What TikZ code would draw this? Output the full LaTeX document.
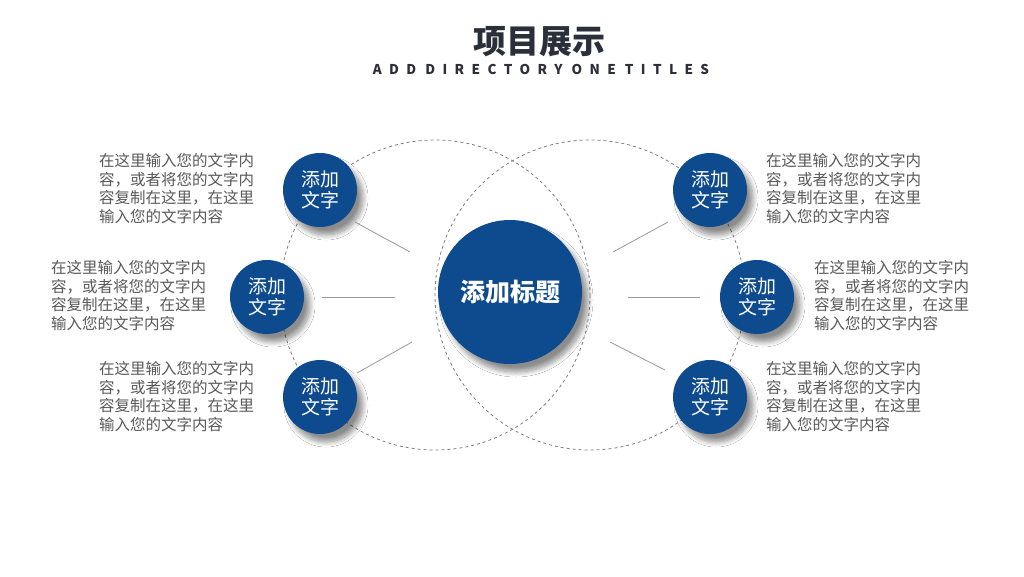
\documentclass[tikz,border=0pt]{standalone}
\usepackage{fontspec}
\setmainfont{Noto Sans CJK SC}
\usetikzlibrary{shadows.blur}
\definecolor{navy}{HTML}{0E4A8E}
\definecolor{txt}{HTML}{595959}
\definecolor{ttl}{HTML}{2A2F3A}
\tikzset{
  bub/.style={circle,fill=navy,minimum size=74pt,inner sep=0pt,text=white,align=center,font=\fontsize{19}{21}\selectfont,blur shadow={shadow xshift=6pt,shadow yshift=-8pt,shadow opacity=45,shadow blur radius=5pt,shadow blur steps=10}},
  dcirc/.style={draw=gray,dashed,line width=0.8pt},
  link/.style={draw=gray!80,line width=0.8pt},
  desc/.style={text=txt,align=left,anchor=north west,inner sep=0pt,font=\fontsize{15.5}{18.7}\selectfont}
}
\begin{document}
\begin{tikzpicture}[x=1pt,y=-1pt]
\useasboundingbox[fill=white] (0,0) rectangle (1024,576);
\node[text=ttl] (title) at (539,42) {\fontsize{33}{35}\selectfont\bfseries 项目展示};
\node[text=ttl] (sub) at (541,69) {\fontsize{13.5}{15}\selectfont\bfseries\addfontfeature{LetterSpace=55}ADD\hspace{9pt}DIRECTORY\hspace{9pt}ONE\hspace{9pt}TITLES};
\draw[dcirc] (435,295) circle (155);
\draw[dcirc] (590,295) circle (155);
\node[bub,minimum size=144pt,font=\fontsize{25}{27}\selectfont\bfseries] (c) at (510,292) {添加标题};
\node[bub] (l1) at (320,190) {添加\\文字};
\node[bub] (l2) at (267,297) {添加\\文字};
\node[bub] (l3) at (320,397) {添加\\文字};
\node[bub] (r1) at (710,190) {添加\\文字};
\node[bub] (r2) at (757,297) {添加\\文字};
\node[bub] (r3) at (710,397) {添加\\文字};
\coordinate (a1) at (355,222); \coordinate (b1) at (410,252);
\coordinate (a2) at (322,297); \coordinate (b2) at (395,297);
\coordinate (a3) at (357,373); \coordinate (b3) at (412,342);
\coordinate (a4) at (613,252); \coordinate (b4) at (668,222);
\coordinate (a5) at (628,297); \coordinate (b5) at (700,297);
\coordinate (a6) at (610,342); \coordinate (b6) at (665,370);
\foreach \i in {1,...,6}{\draw[link] (a\i) -- (b\i);}
\node[desc] (t1) at (99,153) {在这里输入您的文字内\\容，或者将您的文字内\\容复制在这里，在这里\\输入您的文字内容};
\node[desc] (t2) at (51,260) {在这里输入您的文字内\\容，或者将您的文字内\\容复制在这里，在这里\\输入您的文字内容};
\node[desc] (t3) at (99,361) {在这里输入您的文字内\\容，或者将您的文字内\\容复制在这里，在这里\\输入您的文字内容};
\node[desc] (t4) at (766,153) {在这里输入您的文字内\\容，或者将您的文字内\\容复制在这里，在这里\\输入您的文字内容};
\node[desc] (t5) at (814,260) {在这里输入您的文字内\\容，或者将您的文字内\\容复制在这里，在这里\\输入您的文字内容};
\node[desc] (t6) at (766,361) {在这里输入您的文字内\\容，或者将您的文字内\\容复制在这里，在这里\\输入您的文字内容};
\end{tikzpicture}
\end{document}
